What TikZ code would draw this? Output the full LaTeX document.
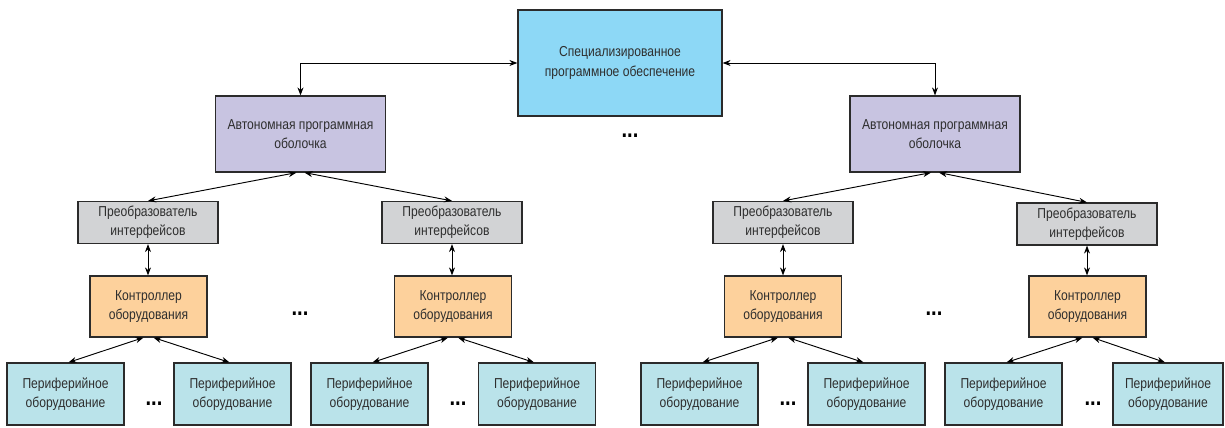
\documentclass[tikz,border=0pt]{standalone}
\usepackage{fontspec}
\setmainfont{Liberation Sans}[FakeStretch=0.84]
\usetikzlibrary{arrows.meta,calc}
\definecolor{txt}{HTML}{2E2E2E}
\definecolor{edge}{HTML}{2B2B2B}
\definecolor{topfill}{HTML}{8DD8F6}
\definecolor{autofill}{HTML}{C8C4E1}
\definecolor{convfill}{HTML}{D2D3D5}
\definecolor{ctrlfill}{HTML}{FDD19C}
\definecolor{perfill}{HTML}{BAE3EA}
\tikzset{
  box/.style={draw=edge,line width=0.9pt,text=txt,align=center,inner sep=0pt,
    font=\fontsize{10.8}{14.3}\selectfont},
  topbox/.style={box,fill=topfill,minimum width=153pt,minimum height=79.5pt},
  autobox/.style={box,fill=autofill,minimum width=127.5pt,minimum height=57pt},
  convbox/.style={box,fill=convfill,minimum width=105pt,minimum height=31.5pt},
  ctrlbox/.style={box,fill=ctrlfill,minimum width=87.75pt,minimum height=45.75pt},
  perbox/.style={box,fill=perfill,minimum width=87.75pt,minimum height=46.5pt},
  link/.style={draw=black,line width=0.7pt,{Stealth[length=6pt,width=4.5pt]}-{Stealth[length=6pt,width=4.5pt]}},
  dots/.style={text=black,inner sep=0pt,font=\fontsize{18}{18}\selectfont\bfseries}
}
\begin{document}
\begin{tikzpicture}[x=0.75pt,y=-0.75pt]
\useasboundingbox (0,0) rectangle (1225,428);
% top
\node[topbox] (top) at (620,63) {Специализированное\\программное обеспечение};
\node[dots] (d0) at (630,136) {...};
% autonomous shells
\node[autobox] (aL) at (300.5,134) {Автономная программная\\оболочка};
\node[autobox] (aR) at (935,134) {Автономная программная\\оболочка};
% converters
\node[convbox] (cL1) at (148,222.5) {Преобразователь\\интерфейсов};
\node[convbox] (cL2) at (452,222.5) {Преобразователь\\интерфейсов};
\node[convbox] (cR1) at (783,222.5) {Преобразователь\\интерфейсов};
\node[convbox] (cR2) at (1087,224) {Преобразователь\\интерфейсов};
% controllers
\node[ctrlbox] (kL1) at (148.5,306.5) {Контроллер\\оборудования};
\node[ctrlbox] (kL2) at (453,306.5) {Контроллер\\оборудования};
\node[ctrlbox] (kR1) at (783,306.5) {Контроллер\\оборудования};
\node[ctrlbox] (kR2) at (1087.5,306.5) {Контроллер\\оборудования};
\node[dots] (d1) at (300,314) {...};
\node[dots] (d2) at (934,314) {...};
% peripherals
\node[perbox] (p1) at (65.5,394) {Периферийное\\оборудование};
\node[perbox] (p2) at (232.5,394) {Периферийное\\оборудование};
\node[perbox] (p3) at (369.5,394) {Периферийное\\оборудование};
\node[perbox] (p4) at (537,394) {Периферийное\\оборудование};
\node[perbox] (p5) at (699.5,394) {Периферийное\\оборудование};
\node[perbox] (p6) at (866.5,394) {Периферийное\\оборудование};
\node[perbox] (p7) at (1003.5,394) {Периферийное\\оборудование};
\node[perbox,minimum width=82.5pt] (p8) at (1168,394) {Периферийное\\оборудование};
\node[dots] (d3) at (154,404) {...};
\node[dots] (d4) at (458,404) {...};
\node[dots] (d5) at (788,404) {...};
\node[dots] (d6) at (1093,404) {...};
% top links
\draw[link] (top.west) -| (aL.north);
\draw[link] (top.east) -| (aR.north);
% shell to converters
\draw[link] ($(aL.south)+(-4,0)$) -- (cL1.north);
\draw[link] ($(aL.south)+(4,0)$) -- (cL2.north);
\draw[link] ($(aR.south)+(-4,0)$) -- (cR1.north);
\draw[link] ($(aR.south)+(4,0)$) -- (cR2.north);
% converter to controller
\draw[link] (cL1.south) -- (kL1.north -| cL1.south);
\draw[link] (cL2.south) -- (kL2.north -| cL2.south);
\draw[link] (cR1.south) -- (kR1.north -| cR1.south);
\draw[link] (cR2.south) -- (kR2.north -| cR2.south);
% controller to peripherals
\draw[link] ($(kL1.south)+(-5,0)$) -- ($(p1.north)+(3,0)$);
\draw[link] ($(kL1.south)+(5,0)$) -- ($(p2.north)+(-3,0)$);
\draw[link] ($(kL2.south)+(-5,0)$) -- ($(p3.north)+(3,0)$);
\draw[link] ($(kL2.south)+(5,0)$) -- ($(p4.north)+(-3,0)$);
\draw[link] ($(kR1.south)+(-5,0)$) -- ($(p5.north)+(3,0)$);
\draw[link] ($(kR1.south)+(5,0)$) -- ($(p6.north)+(-3,0)$);
\draw[link] ($(kR2.south)+(-5,0)$) -- ($(p7.north)+(3,0)$);
\draw[link] ($(kR2.south)+(5,0)$) -- ($(p8.north)+(-3,0)$);
\end{tikzpicture}
\end{document}
